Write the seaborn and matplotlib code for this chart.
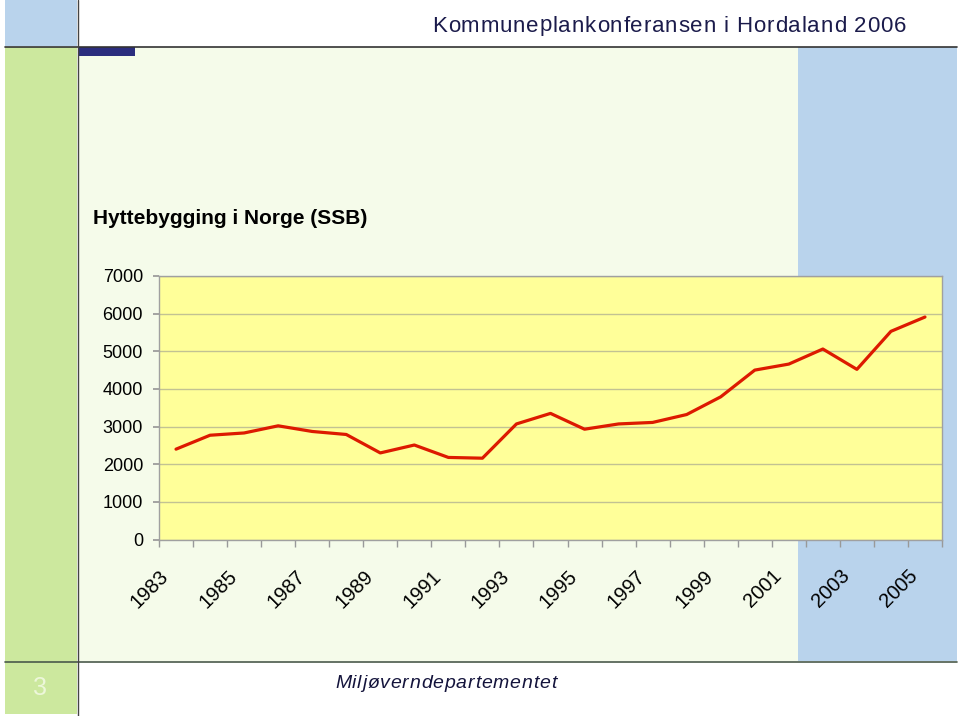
import matplotlib
matplotlib.use("Agg")
import matplotlib.pyplot as plt
import matplotlib.transforms as mtransforms
from matplotlib.font_manager import FontProperties
import seaborn as sns
import pandas as pd
import numpy as np
from matplotlib.patches import Rectangle

sns.set_theme(style="white")
plt.rcParams['font.family'] = ['Liberation Sans', 'DejaVu Sans']

years = list(range(1983, 2006))
cabins = [2400, 2770, 2830, 3020, 2870, 2790, 2300, 2510, 2180, 2160, 3070,
          3350, 2930, 3070, 3110, 3320, 3790, 4500, 4660, 5060, 4520, 5530, 5910]
y_ticks = [0, 1000, 2000, 3000, 4000, 5000, 6000, 7000]
x_tick_years = list(range(1983, 2006, 2))

header = "Kommuneplankonferansen i Hordaland 2006"
chart_title = "Hyttebygging i Norge (SSB)"
footer = "Miljøverndepartementet"
slide_no = "3"

df = pd.DataFrame({"year": years, "cabins": cabins})

W, H = 960, 716
fig = plt.figure(figsize=(W / 100, H / 100), dpi=100)
fig.patch.set_facecolor("white")
renderer = fig.canvas.get_renderer()

bg = fig.add_axes([0, 0, 1, 1])
bg.set_xlim(0, W)
bg.set_ylim(H, 0)
bg.axis("off")


def spaced_text(ax, x_left, y, s, target_width, fontsize, **kw):
    prop = FontProperties(family=["Liberation Sans"], size=fontsize,
                          style=kw.get("style", "normal"))
    bar_w = renderer.get_text_width_height_descent("|", prop, ismath=False)[0]

    def w(t):
        return renderer.get_text_width_height_descent(t + "|", prop,
                                                      ismath=False)[0] - bar_w
    natural = renderer.get_text_width_height_descent(s, prop, ismath=False)[0]
    gap = (target_width - natural) / max(len(s) - 1, 1)
    for i, ch in enumerate(s):
        xi = x_left + w(s[:i]) + i * gap
        ax.text(xi, y, ch, ha="left", va="center", fontproperties=prop,
                **{k: v for k, v in kw.items() if k != "style"})


blue = "#B9D3EC"
green = "#CCE89E"
cream = "#F5FBEA"
bg.add_patch(Rectangle((5, 0), 72, 46, color=blue, lw=0))
bg.add_patch(Rectangle((5, 47), 72, 667, color=green, lw=0))
bg.add_patch(Rectangle((78, 47), 720, 614, color=cream, lw=0))
bg.add_patch(Rectangle((798, 47), 159, 614, color=blue, lw=0))
bg.add_patch(Rectangle((78, 47), 57, 9, color="#2B2D7E", lw=0))
bg.plot([5, 957], [46.5, 46.5], color="#333333", lw=1.2)
bg.plot([5, 957], [661.5, 661.5], color="#4a5a4a", lw=1.2)
bg.plot([78, 78], [0, 716], color="#444444", lw=1.0)

spaced_text(bg, 432, 26, header, 474, 16, color="#1B1B4B")
spaced_text(bg, 335, 684, footer, 221, 14, color="#14143C", style="italic")
bg.text(40, 688, slide_no, ha="center", va="center", fontsize=18,
        color="#EDF7DA")
bg.text(93, 218, chart_title, ha="left", va="center", fontsize=15,
        fontweight="bold", color="black")

# chart
x0, x1, ytop, ybot = 159, 942, 276, 539.5
ax = fig.add_axes([x0 / W, (H - ybot) / H, (x1 - x0) / W, (ybot - ytop) / H])
ax.set_facecolor("#FFFF99")
sns.lineplot(data=df, x="year", y="cabins", ax=ax, color="#DD1A00",
             linewidth=2.3)
ax.set_xlim(1982.5, 2005.5)
ax.set_ylim(0, 7000)
ax.set_yticks(y_ticks)
ax.set_yticklabels([str(v) for v in y_ticks], fontsize=13, color="black")
ax.yaxis.grid(True, color="#C2C293", lw=1.0)
ax.set_axisbelow(True)
ax.set_xticks(x_tick_years)
ax.set_xticks(np.arange(1982.5, 2006, 1), minor=True)
ax.tick_params(axis="x", which="major", length=0, pad=20)
ax.tick_params(axis="x", which="minor", length=5, color="#999999",
               direction="out", bottom=True)
ax.tick_params(axis="y", length=4, color="#999999", direction="out", left=True,
               pad=7.5)
ax.set_xticklabels([str(v) for v in x_tick_years], rotation=45, ha="right",
                   va="top", rotation_mode="anchor", fontsize=14.5,
                   color="black")
ax.set_xlabel("")
ax.set_ylabel("")
for s in ax.spines.values():
    s.set_color("#A0A0A0")
    s.set_linewidth(1.0)

fig.canvas.draw()
shift = mtransforms.ScaledTranslation(-17 / 100, 1 / 100, fig.dpi_scale_trans)
for tick in ax.xaxis.get_major_ticks():
    tick.label1.set_transform(tick.label1.get_transform() + shift)

fig.savefig("out.png", dpi=100)
